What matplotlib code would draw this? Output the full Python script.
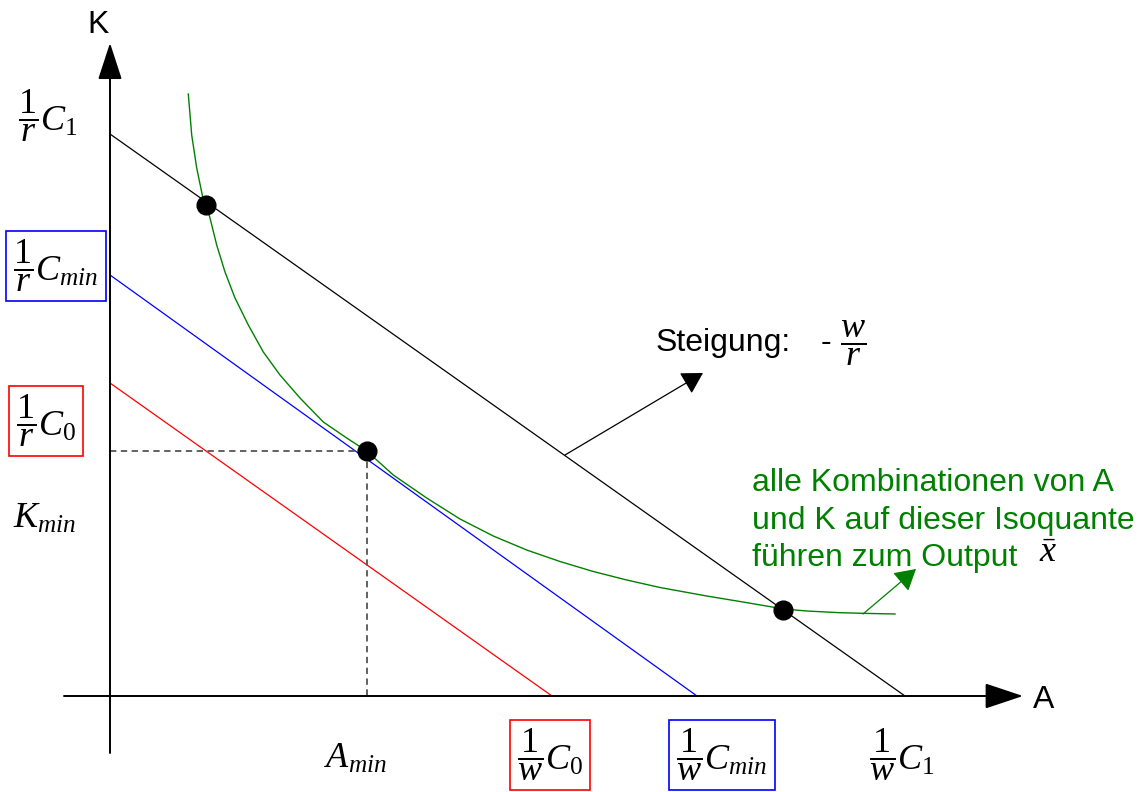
import matplotlib
matplotlib.use("Agg")
import matplotlib.pyplot as plt

plt.rcParams['font.family'] = ['Liberation Sans', 'DejaVu Sans']
plt.rcParams['mathtext.fontset'] = 'custom'
plt.rcParams['mathtext.rm'] = 'Liberation Serif'
plt.rcParams['mathtext.it'] = 'Liberation Serif:italic'

# budget lines (isocost): intercepts on the K and A axes
cost_labels = ['0', 'min', '1']
k_intercepts = [3.13, 4.21, 5.62]
a_intercepts = [4.42, 5.87, 7.95]
line_colors = ['#ff0000', '#0000ff', '#000000']

# isoquant for output x-bar
iso_a = [0.783, 0.817, 0.867, 0.927, 0.967, 1.00, 1.067, 1.15, 1.25, 1.383, 1.533,
         1.70, 1.90, 2.133, 2.367, 2.567, 2.833, 3.167, 3.50, 3.833, 4.167, 4.50,
         4.833, 5.167, 5.50, 5.967, 6.30, 6.74, 6.967, 7.30, 7.517, 7.85]
iso_k = [6.02, 5.61, 5.28, 4.99, 4.90, 4.78, 4.51, 4.24, 3.98, 3.71, 3.44,
         3.21, 2.98, 2.74, 2.58, 2.45, 2.21, 1.98, 1.77, 1.60, 1.46, 1.345,
         1.245, 1.16, 1.085, 1.00, 0.945, 0.87, 0.85, 0.833, 0.827, 0.82]

# marked combinations: intersections with C1 and tangency with Cmin
dot_a = [0.96, 2.57, 6.73]
dot_k = [4.91, 2.45, 0.86]
a_min, k_min = dot_a[1], dot_k[1]

iso_text = ['alle Kombinationen von A', 'und K auf dieser Isoquante', 'führen zum Output']

fig = plt.figure(figsize=(11.47, 7.92), dpi=100)
ax = fig.add_axes([0, 0, 1, 1])
ax.set_xlim(-1.10, 10.37)
ax.set_ylim(-0.96, 6.96)
ax.axis('off')

# axes with arrow heads
ax.annotate('', xy=(9.13, 0), xytext=(-0.46, 0),
            arrowprops=dict(arrowstyle='-|>,head_length=2.4,head_width=0.8', mutation_scale=10,
                            lw=1.4, color='black', shrinkA=0, shrinkB=0))
ax.annotate('', xy=(0, 6.53), xytext=(0, -0.57),
            arrowprops=dict(arrowstyle='-|>,head_length=2.3,head_width=0.75', mutation_scale=10,
                            lw=1.4, color='black', shrinkA=0, shrinkB=0))
ax.text(-0.12, 6.71, 'K', fontsize=23, ha='center', va='center')
ax.text(9.34, -0.04, 'A', fontsize=23, ha='center', va='center')

# isocost lines
for ki, ai, c in zip(k_intercepts, a_intercepts, line_colors):
    ax.plot([0, ai], [ki, 0], color=c, lw=0.9)

# isoquant
ax.plot(iso_a, iso_k, color='#008000', lw=1.0)

# dashed guides to the minimum-cost combination
ax.plot([0, a_min], [k_min, k_min], color='#555555', lw=1.3, ls=(0, (3.5, 2.5)))
ax.plot([a_min, a_min], [k_min, 0], color='#555555', lw=1.3, ls=(0, (3.5, 2.5)))

ax.plot(dot_a, dot_k, 'o', color='black', markersize=13.5, zorder=5)

# axis labels for the intercepts
fs = 23
ms = 26
box = 'square,pad=0.2'
ax.text(-0.92, 5.80, r'$\dfrac{1}{r}C_{1}$', fontsize=ms, ha='left', va='center')
ax.text(-0.54, 4.30, r'$\dfrac{1}{r}C_{min}$', fontsize=ms, ha='center', va='center',
        bbox=dict(boxstyle=box, fc='none', ec='#0000ff', lw=1.2))
ax.text(-0.64, 2.75, r'$\dfrac{1}{r}C_{0}$', fontsize=ms, ha='center', va='center',
        bbox=dict(boxstyle=box, fc='none', ec='#ff0000', lw=1.2))
ax.text(-0.65, 1.78, r'$K_{min}$', fontsize=ms, ha='center', va='center')
ax.text(2.45, -0.62, r'$A_{min}$', fontsize=ms, ha='center', va='center')
ax.text(4.40, -0.59, r'$\dfrac{1}{w}C_{0}$', fontsize=ms, ha='center', va='center',
        bbox=dict(boxstyle=box, fc='none', ec='#ff0000', lw=1.2))
ax.text(6.12, -0.59, r'$\dfrac{1}{w}C_{min}$', fontsize=ms, ha='center', va='center',
        bbox=dict(boxstyle=box, fc='none', ec='#0000ff', lw=1.2))
ax.text(7.59, -0.59, r'$\dfrac{1}{w}C_{1}$', fontsize=ms, ha='left', va='center')

# slope annotation
ax.annotate('', xy=(5.93, 3.23), xytext=(4.55, 2.41),
            arrowprops=dict(arrowstyle='-|>,head_length=1.3,head_width=0.75', mutation_scale=10,
                            lw=0.9, color='black', shrinkA=0, shrinkB=0))
ax.text(5.46, 3.53, 'Steigung:', fontsize=fs, ha='left', va='center')
ax.text(7.16, 3.53, '-', fontsize=fs, ha='center', va='center')
ax.text(7.30, 3.53, r'$\dfrac{w}{r}$', fontsize=ms, ha='left', va='center')

# isoquant annotation
ax.annotate('', xy=(8.06, 1.27), xytext=(7.53, 0.82),
            arrowprops=dict(arrowstyle='-|>,head_length=1.3,head_width=0.75', mutation_scale=10,
                            lw=0.9, color='#008000', shrinkA=0, shrinkB=0))
for line, ky in zip(iso_text, [2.13, 1.75, 1.38]):
    ax.text(6.42, ky, line, fontsize=fs, color='#008000', ha='left', va='center')
ax.text(9.38, 1.43, r'$\bar{x}$', fontsize=ms, ha='center', va='center')

fig.savefig('out.png', dpi=100)
